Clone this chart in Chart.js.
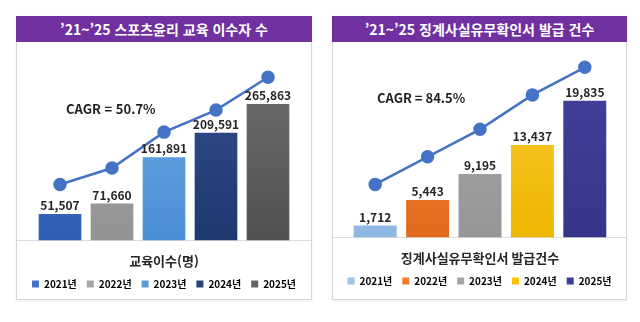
<!DOCTYPE html>
<html lang="ko">
<head>
<meta charset="utf-8">
<script src="https://cdn.jsdelivr.net/npm/chart.js@4.4.1/dist/chart.umd.min.js"></script>
<style>
  html, body {
    margin: 0;
    padding: 0;
    background: #ffffff;
    width: 640px;
    height: 322px;
    overflow: hidden;
    font-family: "Noto Sans CJK KR", "Noto Sans", sans-serif;
  }

  .panel {
    position: absolute;
    top: 16px;
    height: 284px;
    box-sizing: border-box;
    border: 1px solid #d6d6d6;
    box-shadow: 0 1px 2px rgba(0, 0, 0, 0.08);
    background: #ffffff;
  }

  .header {
    height: 26px;
    margin: -1px -1px 0 -1px;
    background: #7030a0;
    color: #ffffff;
    font-weight: bold;
    font-size: 14px;
    line-height: 26px;
    text-align: center;
    white-space: nowrap;
  }

  .chart-box {
    position: relative;
    height: 257px;
  }
</style>
</head>
<body>

<div class="panel" style="left: 16px; width: 296px;">
  <div class="header">’21~’25 스포츠윤리 교육 이수자 수</div>
  <div class="chart-box"><canvas id="ethicsChart"></canvas></div>
</div>

<div class="panel" style="left: 332px; width: 295px;">
  <div class="header">’21~’25 징계사실유무확인서 발급 건수</div>
  <div class="chart-box"><canvas id="disciplineChart"></canvas></div>
</div>

<script>
// ======================================
// Adatok
// ======================================

const years = ["2021년", "2022년", "2023년", "2024년", "2025년"];

const ethicsValues = [51507, 71660, 161891, 209591, 265863];
const ethicsTrend = [109000, 141000, 211000, 254000, 318000];

const disciplineValues = [1712, 5443, 9195, 13437, 19835];
const disciplineTrend = [7700, 11700, 15700, 20700, 24700];


// ======================================
// Színek
// ======================================

const ethicsColors = [
  ["#4f7fd6", "#2f5db5", "#4472c4"],
  ["#ababab", "#939393", "#a5a5a5"],
  ["#72aee6", "#4a8ed6", "#5b9bd5"],
  ["#344f8e", "#1e3970", "#264478"],
  ["#717171", "#505050", "#636363"]
];

const disciplineColors = [
  ["#a8cbeb", "#8db8e2", "#9dc3e6"],
  ["#f48a3e", "#e26a1c", "#ed7d31"],
  ["#adadad", "#959595", "#a5a5a5"],
  ["#ffcb3a", "#edb600", "#ffc000"],
  ["#42429c", "#35358a", "#3b3b98"]
];

const lineColor = "#4472c4";
const fontFamily = "'Noto Sans CJK KR', 'Noto Sans', sans-serif";


// ======================================
// Saját pluginek
// ======================================

const valueLabelPlugin = {
  id: "valueLabels",
  afterDatasetsDraw(chart) {
    const meta = chart.getDatasetMeta(0);
    const values = chart.data.datasets[0].data;
    const ctx = chart.ctx;

    ctx.save();
    ctx.font = "bold 12px " + fontFamily;
    ctx.fillStyle = "#262626";
    ctx.textAlign = "center";
    ctx.textBaseline = "alphabetic";

    meta.data.forEach((bar, index) => {
      ctx.fillText(values[index].toLocaleString("en-US"), bar.x, bar.y - 4);
    });

    ctx.restore();
  }
};

const cagrPlugin = {
  id: "cagrText",
  afterDraw(chart, args, options) {
    if (!options.text) {
      return;
    }

    const ctx = chart.ctx;

    ctx.save();
    ctx.font = "bold 13px " + fontFamily;
    ctx.fillStyle = "#1f1f1f";
    ctx.textAlign = "left";
    ctx.textBaseline = "middle";
    ctx.fillText(options.text, options.x, options.y);
    ctx.restore();
  }
};

// a vízszintes alapvonal a teljes panelszélességben fut
const baseLinePlugin = {
  id: "baseLine",
  beforeDatasetsDraw(chart) {
    const ctx = chart.ctx;
    const y = Math.round(chart.chartArea.bottom) + 0.5;

    ctx.save();
    ctx.strokeStyle = "#dcdcdc";
    ctx.lineWidth = 1;
    ctx.beginPath();
    ctx.moveTo(0, y);
    ctx.lineTo(chart.width, y);
    ctx.stroke();
    ctx.restore();
  }
};


// ======================================
// Kombinált diagram létrehozása
// ======================================

function hiddenAxis(position, gap, max) {
  return {
    display: true,
    position: position,
    min: 0,
    max: max,
    grid: {
      display: false,
      drawTicks: false
    },
    border: {
      display: false
    },
    ticks: {
      display: false
    },
    afterFit: (scale) => {
      scale.width = gap;
    }
  };
}

function createComboChart(canvasId, values, trend, colors, axisTitle, cagr, setup) {
  const ctx = document.getElementById(canvasId);

  return new Chart(ctx, {
    data: {
      labels: years,
      datasets: [
        {
          type: "bar",
          data: values,
          order: 1,
          barPercentage: 0.82,
          categoryPercentage: 1,
          backgroundColor: (context) => {
            const area = context.chart.chartArea;
            const pair = colors[context.dataIndex];

            if (!area) {
              return pair[2];
            }

            const gradient = context.chart.ctx.createLinearGradient(0, area.top, 0, area.bottom);
            gradient.addColorStop(0, pair[0]);
            gradient.addColorStop(1, pair[1]);
            return gradient;
          }
        },
        {
          type: "line",
          data: trend,
          order: 0,
          borderColor: lineColor,
          borderWidth: 2.5,
          pointRadius: 5.5,
          pointBackgroundColor: lineColor,
          pointBorderColor: lineColor,
          tension: 0
        }
      ]
    },
    options: {
      responsive: true,
      maintainAspectRatio: false,
      animation: false,
      events: [],
      layout: {
        padding: { left: 0, right: 0, top: setup.top, bottom: setup.bottom }
      },
      plugins: {
        legend: {
          position: "bottom",
          labels: {
            color: "#262626",
            boxWidth: 7,
            boxHeight: 7,
            padding: setup.legendPadding,
            font: {
              family: fontFamily,
              size: 10,
              weight: "bold"
            },
            generateLabels: () => {
              return years.map((year, index) => {
                return {
                  text: year,
                  fillStyle: colors[index][2],
                  strokeStyle: colors[index][2],
                  lineWidth: 0,
                  hidden: false,
                  index: index
                };
              });
            }
          }
        },
        tooltip: {
          enabled: false
        },
        cagrText: cagr
      },
      scales: {
        x: {
          grid: {
            display: false,
            drawTicks: false
          },
          border: {
            display: false
          },
          ticks: {
            display: false
          },
          title: {
            display: true,
            text: axisTitle,
            color: "#262626",
            padding: setup.titlePadding,
            font: {
              family: fontFamily,
              size: 13,
              weight: "bold"
            }
          }
        },
        y: hiddenAxis("left", setup.leftGap, setup.yMax),
        yRight: hiddenAxis("right", setup.rightGap, setup.yMax)
      }
    },
    plugins: [valueLabelPlugin, cagrPlugin, baseLinePlugin]
  });
}


// ======================================
// Fő program
// ======================================

createComboChart(
  "ethicsChart",
  ethicsValues,
  ethicsTrend,
  ethicsColors,
  "교육이수(명)",
  { text: "CAGR = 50.7%", x: 49, y: 67 },
  {
    top: 8,
    bottom: 0,
    leftGap: 17,
    rightGap: 17,
    titlePadding: { top: 13, bottom: 0 },
    legendPadding: 10,
    yMax: 371000
  }
);

createComboChart(
  "disciplineChart",
  disciplineValues,
  disciplineTrend,
  disciplineColors,
  "징계사실유무확인서 발급건수",
  { text: "CAGR = 84.5%", x: 44, y: 56 },
  {
    top: 8,
    bottom: 3,
    leftGap: 16,
    rightGap: 15,
    titlePadding: { top: 13, bottom: 0 },
    legendPadding: 10,
    yMax: 27220
  }
);
</script>
</body>
</html>
